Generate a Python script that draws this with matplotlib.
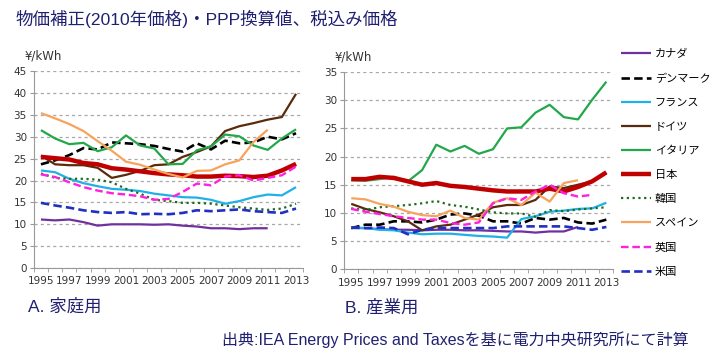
import matplotlib.pyplot as plt
import numpy as np

plt.rcParams['font.family'] = ['DejaVu Sans', 'Noto Sans CJK JP']

years = np.arange(1995, 2014)
n = np.nan

countries = ["カナダ", "デンマーク", "フランス", "ドイツ", "イタリア",
             "日本", "韓国", "スペイン", "英国", "米国"]

# 家庭用 (residential), yen/kWh
home = {
    "カナダ":    [11.1, 10.9, 11.1, 10.5, 9.7, 10.0, 10.0, 10.0, 9.9, 10.0, 9.7, 9.5, 9.1, 9.1, 8.9, 9.1, 9.1, n, n],
    "デンマーク": [23.7, 24.6, 25.8, 27.4, 27.1, 28.7, 28.5, 28.3, 27.9, 27.2, 26.6, 28.5, 27.1, 29.1, 28.5, 28.7, 30.0, 29.4, 30.8],
    "フランス":   [22.3, 21.9, 20.4, 19.4, 18.7, 18.1, 17.9, 17.6, 17.0, 16.6, 16.2, 16.1, 15.6, 14.7, 15.3, 16.2, 16.8, 16.6, 18.5],
    "ドイツ":     [25.7, 23.7, 23.5, 23.5, 22.9, 20.6, 21.3, 22.2, 23.5, 23.7, 25.4, 26.5, 27.8, 31.3, 32.4, 33.1, 33.9, 34.5, 39.8],
    "イタリア":   [31.5, 29.6, 28.3, 28.6, 26.7, 27.6, 30.3, 28.0, 27.3, 23.7, 23.8, 26.9, 27.8, 30.5, 30.1, 28.0, 27.0, 29.6, 31.7],
    "日本":       [25.4, 25.1, 24.8, 24.0, 23.7, 22.8, 22.5, 22.1, 21.7, 21.4, 21.2, 20.9, 20.9, 21.1, 21.0, 20.8, 21.1, 22.3, 23.8],
    "韓国":       [21.6, 20.6, 20.4, 20.4, 20.2, 19.6, 18.1, 17.0, 15.6, 15.3, 14.9, 14.9, 14.7, 14.3, 13.9, 13.6, 13.3, 13.6, 14.7],
    "スペイン":   [35.4, 34.2, 32.9, 31.3, 29.0, 26.8, 24.3, 23.6, 22.5, 21.5, 20.7, 22.2, 22.3, 23.7, 24.6, 28.8, 31.6, n, n],
    "英国":       [21.4, 20.8, 19.6, 18.5, 17.7, 17.1, 16.8, 16.4, 15.6, 15.8, 17.4, 19.3, 18.9, 20.9, 21.2, 20.0, 20.6, 21.2, 23.2],
    "米国":       [14.9, 14.3, 13.8, 13.2, 12.8, 12.6, 12.8, 12.3, 12.4, 12.3, 12.6, 13.2, 13.0, 13.2, 13.4, 13.0, 12.8, 12.6, 13.6],
}

# 産業用 (industrial), yen/kWh
industry = {
    "カナダ":    [7.3, 7.3, 7.1, 7.0, 7.0, 6.9, 7.0, 7.0, 6.9, 6.9, 6.8, 6.7, 6.7, 6.5, 6.7, 6.7, 7.5, n, n],
    "デンマーク": [7.3, 7.9, 7.9, 8.5, 8.5, 8.3, 8.8, 9.7, 9.9, 9.5, 8.5, 8.5, 8.1, 9.1, 8.8, 9.1, 8.3, 8.1, 8.8],
    "フランス":   [7.4, 7.3, 7.0, 6.9, 6.5, 6.2, 6.3, 6.3, 6.1, 5.9, 5.8, 5.6, 8.9, 9.4, 10.2, 10.4, 10.7, 10.8, 11.8],
    "ドイツ":     [11.6, 10.7, 10.1, 9.4, 8.5, 6.9, 7.6, 7.9, 8.8, 9.7, 11.0, 11.4, 11.4, 12.3, 14.7, 14.4, 15.0, 15.6, 17.1],
    "イタリア":   [15.8, 15.7, 16.0, 16.4, 15.6, 17.6, 22.1, 20.9, 21.9, 20.5, 21.3, 25.0, 25.2, 27.8, 29.2, 27.0, 26.6, 30.1, 33.3],
    "日本":       [16.0, 16.0, 16.4, 16.2, 15.6, 15.0, 15.3, 14.8, 14.6, 14.3, 14.0, 13.8, 13.8, 13.8, 14.3, 13.8, 14.6, 15.6, 17.2],
    "韓国":       [10.8, 10.5, 11.0, 11.2, 11.4, 11.7, 12.1, 11.4, 11.1, 10.6, 10.1, 9.9, 9.9, 9.3, 10.5, 10.3, 10.6, 10.8, 11.0],
    "スペイン":   [12.6, 12.4, 11.6, 11.1, 10.2, 9.6, 9.4, 10.4, 9.1, 8.8, 11.8, 12.6, 11.4, 13.6, 12.0, 15.3, 15.8, n, n],
    "英国":       [10.7, 10.2, 9.8, 9.4, 9.1, 8.8, 8.8, 8.2, 7.9, 8.3, 11.7, 12.6, 12.3, 13.8, 15.0, 13.5, 12.9, 13.2, n],
    "米国":       [7.4, 7.3, 7.4, 7.3, 6.2, 7.0, 7.3, 7.3, 7.3, 7.3, 7.3, 7.6, 7.6, 7.6, 7.6, 7.6, 7.3, 7.0, 7.5],
}

styles = {
    "カナダ":    dict(color="#7030A0", lw=1.6),
    "デンマーク": dict(color="#000000", lw=1.9, dashes=(3.2, 1.6)),
    "フランス":   dict(color="#1FB1E6", lw=1.6),
    "ドイツ":     dict(color="#5A2A0C", lw=1.6),
    "イタリア":   dict(color="#22A84A", lw=1.6),
    "日本":       dict(color="#C00000", lw=3.2),
    "韓国":       dict(color="#1E6A1E", lw=1.6, dashes=(1.0, 1.6)),
    "スペイン":   dict(color="#F7A35C", lw=1.6),
    "英国":       dict(color="#FF20E0", lw=1.7, dashes=(3.2, 1.6)),
    "米国":       dict(color="#2030C0", lw=1.9, dashes=(3.2, 1.6)),
}

navy = "#202070"
cjk = ['Liberation Sans', 'Noto Sans CJK JP']

fig = plt.figure(figsize=(7.2, 3.57), dpi=100)
ax1 = fig.add_axes([0.047, 0.249, 0.374, 0.552])
ax2 = fig.add_axes([0.478, 0.246, 0.374, 0.552])


def draw(ax, data, ymax):
    for c in countries:
        ax.plot(years, data[c], label=c, solid_capstyle="butt", **styles[c])
    ax.set_xlim(1994.5, 2013.5)
    ax.set_ylim(0, ymax)
    ax.set_yticks(np.arange(0, ymax + 1, 5))
    ax.set_xticks(years[::2])
    ax.set_xticks(np.arange(1994.5, 2014, 1), minor=True)
    ax.tick_params(axis="x", which="major", length=0, pad=6)
    ax.tick_params(axis="x", which="minor", length=3, color="#999999")
    ax.tick_params(axis="y", length=3, color="#999999", pad=2)
    ax.tick_params(labelsize=7.5, labelcolor="#333333")
    ax.grid(axis="y", color="#A8A8A8", lw=0.9, ls=(0, (2.5, 2.5)))
    ax.set_axisbelow(True)
    for s in ("top", "right"):
        ax.spines[s].set_visible(False)
    for s in ("left", "bottom"):
        ax.spines[s].set_color("#999999")
    ax.text(-0.035, 1.075, "¥/kWh", transform=ax.transAxes, fontsize=8.5,
            color="#333333", va="center", ha="left")


draw(ax1, home, 45)
draw(ax2, industry, 35)

handles, labels = ax2.get_legend_handles_labels()
fig.legend(handles, labels, loc="upper left", bbox_to_anchor=(0.857, 0.875),
           frameon=False, prop={"family": ['Noto Sans CJK JP', 'DejaVu Sans'], "size": 8},
           handlelength=2.7, handletextpad=0.3, labelspacing=1.27, borderaxespad=0)

fig.text(0.021, 1 - 19 / 357, "物価補正(2010年価格)・PPP換算値、税込み価格",
         family=cjk, fontsize=12.6, color=navy, va="center")
fig.text(0.039, 1 - 307 / 357, "A. 家庭用", family=cjk, fontsize=12.5, color=navy, va="center")
fig.text(0.479, 1 - 307 / 357, "B. 産業用", family=cjk, fontsize=12.5, color=navy, va="center")
fig.text(0.308, 1 - 340 / 357, "出典:IEA Energy Prices and Taxesを基に電力中央研究所にて計算",
         family=cjk, fontsize=11.5, color=navy, va="center")

fig.savefig("out.png", dpi=100)
